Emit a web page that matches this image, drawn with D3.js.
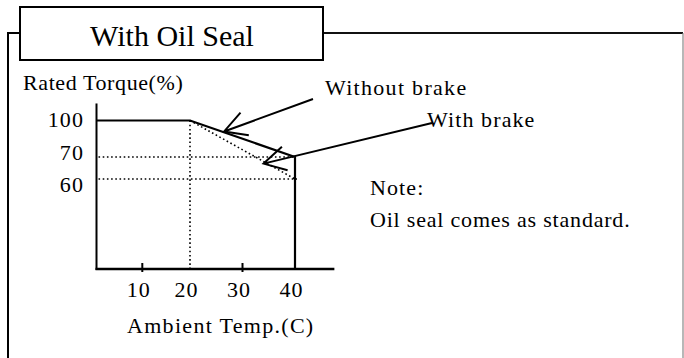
<!DOCTYPE html>
<html>
<head>
<meta charset="utf-8">
<script src="https://cdn.jsdelivr.net/npm/d3@7"></script>
<style>
  html, body { margin: 0; padding: 0; background: #fff; }
  svg { display: block; }
  text { font-family: "Liberation Serif", "Times New Roman", serif; fill: #000; }
</style>
</head>
<body>
<svg id="chart" width="684" height="358"></svg>
<script>
// Derating curve: ambient temperature (C) vs rated torque (%)
const tempTicks = [10, 20, 30, 40];
const torqueTicks = [100, 70, 60];

// Solid curve: without brake
const withoutBrakeTemp = [0, 20, 40, 40];
const withoutBrakeTorque = [100, 100, 70, 0];

// Dotted curve: with brake
const withBrakeTemp = [20, 40];
const withBrakeTorque = [100, 60];

// Dotted guide lines
const guideTorque = [70, 60];
const guideTemp = [20];

// Arrow tips (data units) for the two callouts
const noBrakeTip = [26.5, 91];
const brakeTip = [34, 67];

const svg = d3.select("#chart");

// Schematic (non-uniform) axes: piecewise linear scales
const x = d3.scaleLinear().domain([0, 10, 20, 30, 40]).range([96.5, 142.3, 190, 242.5, 295]);
const y = d3.scaleLinear().domain([0, 60, 70, 100]).range([269, 179, 157, 120.5]);
const xEnd = 47.5, yEnd = 114;

const SP = "1.1px";

// ---- frame and title box ----
const frame = svg.append("g");
frame.append("path")
  .attr("d", "M20,33 H8 V358")
  .attr("fill", "none").attr("stroke", "#000").attr("stroke-width", 2);
frame.append("path")
  .attr("d", "M323,33 H683")
  .attr("fill", "none").attr("stroke", "#111").attr("stroke-width", 2);
frame.append("line")
  .attr("x1", 683).attr("x2", 683).attr("y1", 33).attr("y2", 358)
  .attr("stroke", "#888").attr("stroke-width", 1.2);
frame.append("rect")
  .attr("x", 20).attr("y", 7).attr("width", 303).attr("height", 53)
  .attr("fill", "#fff").attr("stroke", "#000").attr("stroke-width", 2);
frame.append("text")
  .attr("x", 172).attr("y", 45.5).attr("text-anchor", "middle")
  .style("font-size", "30px")
  .text("With Oil Seal");

// ---- axes ----
const g = svg.append("g");
g.append("line")
  .attr("x1", x(0)).attr("x2", x(0)).attr("y1", y(yEnd)).attr("y2", y(0) + 1)
  .attr("stroke", "#000").attr("stroke-width", 2);
g.append("line")
  .attr("x1", x(0) - 1).attr("x2", x(xEnd)).attr("y1", y(0)).attr("y2", y(0))
  .attr("stroke", "#000").attr("stroke-width", 2.5);

// tick marks at 10 and 30 (20 and 40 are marked by the curve / guide)
g.selectAll(".tick")
  .data(tempTicks.filter(d => d === 10 || d === 30))
  .join("line")
  .attr("x1", d => x(d)).attr("x2", d => x(d))
  .attr("y1", y(0) - 6).attr("y2", y(0) + 3)
  .attr("stroke", "#000").attr("stroke-width", 2);

g.selectAll(".xlab")
  .data(tempTicks)
  .join("text")
  .attr("x", d => x(d) - 3.5).attr("y", y(0) + 28)
  .attr("text-anchor", "middle")
  .style("font-size", "22px").style("letter-spacing", SP)
  .text(d => d);

// torque labels set as an evenly spaced column beside the axis
const labelStep = 32.5;
g.selectAll(".ylab")
  .data(torqueTicks)
  .join("text")
  .attr("x", 84).attr("y", (d, i) => y(torqueTicks[0]) + 6.5 + i * labelStep)
  .attr("text-anchor", "end")
  .style("font-size", "22px").style("letter-spacing", SP)
  .text(d => d);

g.append("text")
  .attr("x", 23).attr("y", 89.5)
  .style("font-size", "22px").style("letter-spacing", "0.6px")
  .text("Rated Torque(%)");

g.append("text")
  .attr("x", 127).attr("y", 333)
  .style("font-size", "22px").style("letter-spacing", "1.3px")
  .text("Ambient Temp.(C)");

// ---- dotted guides ----
const dotted = { stroke: "#000", "stroke-width": 1.6, "stroke-dasharray": "1.6,2.6", fill: "none" };
function applyAttrs(sel, a) { Object.entries(a).forEach(([k, v]) => sel.attr(k, v)); return sel; }

guideTorque.forEach(t => {
  applyAttrs(g.append("line")
    .attr("x1", x(0) + 2).attr("x2", x(40) + (t === 60 ? 2 : 0))
    .attr("y1", y(t)).attr("y2", y(t)), dotted);
});
guideTemp.forEach(tp => {
  applyAttrs(g.append("line")
    .attr("x1", x(tp)).attr("x2", x(tp))
    .attr("y1", y(100)).attr("y2", y(0) - 1), dotted);
});

const line = d3.line().x(d => x(d[0])).y(d => y(d[1]));

// with brake (dotted)
applyAttrs(g.append("path")
  .attr("d", line(d3.zip(withBrakeTemp, withBrakeTorque))), dotted);

// without brake (solid)
g.append("path")
  .attr("d", line(d3.zip(withoutBrakeTemp, withoutBrakeTorque)))
  .attr("fill", "none").attr("stroke", "#000").attr("stroke-width", 2.2)
  .attr("stroke-linejoin", "miter");

// ---- callouts ----
function arrow(tail, tipData) {
  const tip = [x(tipData[0]), y(tipData[1])];
  const ang = Math.atan2(tail[1] - tip[1], tail[0] - tip[0]);
  const len = 25, half = 29 * Math.PI / 180;
  const b1 = [tip[0] + len * Math.cos(ang - half), tip[1] + len * Math.sin(ang - half)];
  const b2 = [tip[0] + len * Math.cos(ang + half), tip[1] + len * Math.sin(ang + half)];
  const p = d3.path();
  p.moveTo(tail[0], tail[1]); p.lineTo(tip[0], tip[1]);
  p.moveTo(b1[0], b1[1]); p.lineTo(tip[0], tip[1]); p.lineTo(b2[0], b2[1]);
  g.append("path").attr("d", p.toString())
    .attr("fill", "none").attr("stroke", "#000").attr("stroke-width", 2)
    .attr("stroke-linejoin", "miter");
}

const noBrakeLabel = [325, 95];
const brakeLabel = [427, 127];

g.append("text")
  .attr("x", noBrakeLabel[0]).attr("y", noBrakeLabel[1])
  .style("font-size", "22px").style("letter-spacing", "1.3px")
  .text("Without brake");
g.append("text")
  .attr("x", brakeLabel[0]).attr("y", brakeLabel[1])
  .style("font-size", "22px").style("letter-spacing", SP)
  .text("With brake");

arrow([noBrakeLabel[0] - 12, noBrakeLabel[1] + 4], noBrakeTip);
arrow([brakeLabel[0] + 5, brakeLabel[1] - 4], brakeTip);

// ---- note ----
g.append("text")
  .attr("x", 370).attr("y", 195)
  .style("font-size", "22px").style("letter-spacing", SP)
  .text("Note:");
g.append("text")
  .attr("x", 370).attr("y", 226.5)
  .style("font-size", "22px").style("letter-spacing", "0.8px")
  .text("Oil seal comes as standard.");
</script>
</body>
</html>
